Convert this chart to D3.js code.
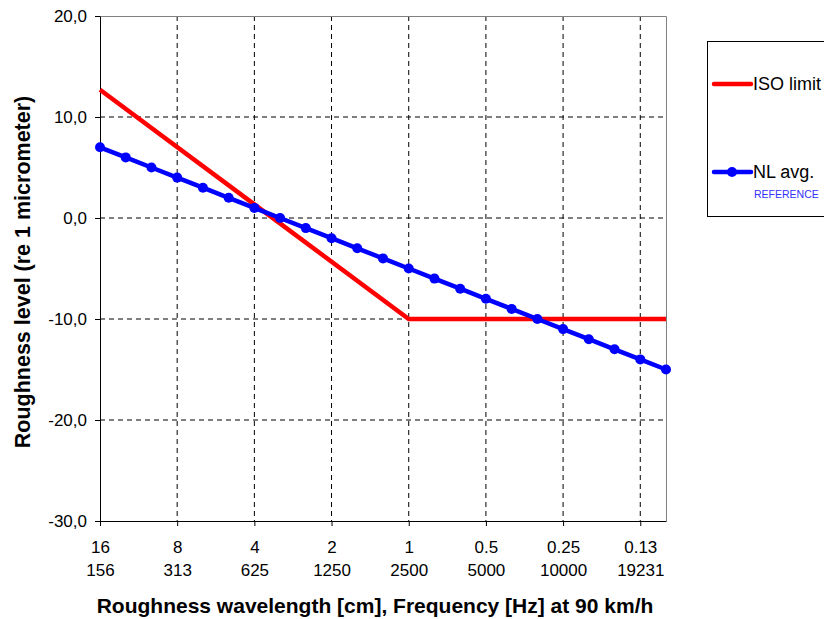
<!DOCTYPE html>
<html>
<head>
<meta charset="utf-8">
<script src="https://cdn.jsdelivr.net/npm/d3@7"></script>
<style>
  body { margin: 0; background: #fff; }
  svg text { font-family: "Liberation Sans", Arial, sans-serif; }
</style>
</head>
<body>
<div id="chart"></div>
<script>
const width = 824,
height = 619,
margin = ({ top: 16, right: 158, bottom: 98, left: 100 });

// 1/3 octave wavelength bands [cm]
const bands = [16, 12.5, 10, 8, 6.3, 5, 4, 3.15, 2.5, 2, 1.6, 1.25, 1, 0.8, 0.63, 0.5, 0.4, 0.315, 0.25, 0.2, 0.16, 0.13, 0.1];
const nlAvg = [7, 6, 5, 4, 3, 2, 1, 0, -1, -2, -3, -4, -5, -6, -7, -8, -9, -10, -11, -12, -13, -14, -15];
// ISO limit: corner points of the line
const isoBands = [16, 1, 0.1];
const isoLimit = [12.7, -10, -10];
// labelled bands and their text
const tickBands = [16, 8, 4, 2, 1, 0.5, 0.25, 0.13];
const wavelengthLabels = ["16", "8", "4", "2", "1", "0.5", "0.25", "0.13"];
const freqLabels = ["156", "313", "625", "1250", "2500", "5000", "10000", "19231"];
const yTicks = [-30, -20, -10, 0, 10, 20];

const svg = d3.select("#chart")
    .append("svg")
    .attr("width", width)
    .attr("height", height);

let x = d3.scalePoint()
    .domain(bands)
    .range([margin.left, width - margin.right]);

let y = d3.scaleLinear()
    .domain([-30, 20])
    .range([height - margin.bottom, margin.top]);

// grid lines (dashed)
svg.append("g")
    .selectAll("line")
    .data(yTicks.filter(d => d > -30 && d < 20))
    .join("line")
    .attr("x1", margin.left).attr("x2", width - margin.right)
    .attr("y1", d => y(d)).attr("y2", d => y(d))
    .attr("stroke", "#000")
    .attr("stroke-dasharray", "5,4");

svg.append("g")
    .selectAll("line")
    .data(tickBands.slice(1))
    .join("line")
    .attr("x1", d => x(d)).attr("x2", d => x(d))
    .attr("y1", margin.top).attr("y2", height - margin.bottom)
    .attr("stroke", "#000")
    .attr("stroke-dasharray", "5,4");

// top and right border in grey
svg.append("path")
    .attr("d", `M${margin.left},${margin.top + 0.5}H${width - margin.right + 0.5}V${height - margin.bottom}`)
    .attr("fill", "none")
    .attr("stroke", "#808080");

// Y axis
svg.append("g")
    .attr("transform", `translate(${margin.left},0)`)
    .call(d3.axisLeft(y)
        .tickValues(yTicks)
        .tickSizeInner(5)
        .tickSizeOuter(0)
        .tickPadding(8)
        .tickFormat(d => d.toFixed(1).replace(".", ",")))
    .call(g => g.selectAll("text").attr("font-size", 17).attr("fill", "#000"))
    .call(g => g.select(".domain").attr("stroke", "#000"));

// X axis, two label rows
let xAxis = svg.append("g")
    .attr("transform", `translate(0,${height - margin.bottom})`)
    .call(d3.axisBottom(x)
        .tickValues(tickBands)
        .tickSizeInner(5)
        .tickSizeOuter(0)
        .tickFormat(""));
xAxis.select(".domain").attr("stroke", "#000");

xAxis.selectAll(".tick")
    .append("text")
    .attr("fill", "#000")
    .attr("font-size", 17)
    .attr("y", 32)
    .text((d, i) => wavelengthLabels[i]);

xAxis.selectAll(".tick")
    .append("text")
    .attr("fill", "#000")
    .attr("font-size", 17)
    .attr("y", 55)
    .text((d, i) => freqLabels[i]);

// axis titles
svg.append("text")
    .attr("x", 375)
    .attr("y", 613)
    .attr("text-anchor", "middle")
    .attr("font-size", 21)
    .attr("font-weight", 700)
    .text("Roughness wavelength [cm], Frequency [Hz] at 90 km/h");

svg.append("text")
    .attr("transform", "translate(30,272) rotate(-90)")
    .attr("text-anchor", "middle")
    .attr("font-size", 21.5)
    .attr("font-weight", 700)
    .text("Roughness level (re 1 micrometer)");

// lines
let isoData = isoBands.map((b, i) => ({ band: b, value: isoLimit[i] }));
let nlData = bands.map((b, i) => ({ band: b, value: nlAvg[i] }));

let line = d3.line()
    .x(d => x(d.band))
    .y(d => y(d.value));

svg.append("path")
    .datum(isoData)
    .attr("fill", "none")
    .attr("stroke", "#ff0000")
    .attr("stroke-width", 4.5)
    .attr("d", line);

svg.append("path")
    .datum(nlData)
    .attr("fill", "none")
    .attr("stroke", "#0000ff")
    .attr("stroke-width", 4.5)
    .attr("d", line);

svg.append("g")
    .selectAll("circle")
    .data(nlData)
    .join("circle")
    .attr("cx", d => x(d.band))
    .attr("cy", d => y(d.value))
    .attr("r", 5)
    .attr("fill", "#0000ff");

// legend
let legend = svg.append("g");
legend.append("rect")
    .attr("x", 707.5).attr("y", 41.5)
    .attr("width", 130).attr("height", 175)
    .attr("fill", "#fff")
    .attr("stroke", "#000");

legend.append("line")
    .attr("x1", 714).attr("x2", 751)
    .attr("y1", 84).attr("y2", 84)
    .attr("stroke", "#ff0000")
    .attr("stroke-width", 4.5)
    .attr("stroke-linecap", "round");
legend.append("text")
    .attr("x", 753).attr("y", 84)
    .attr("dy", "0.35em")
    .attr("font-size", 18)
    .text("ISO limit");

legend.append("line")
    .attr("x1", 714).attr("x2", 751)
    .attr("y1", 172).attr("y2", 172)
    .attr("stroke", "#0000ff")
    .attr("stroke-width", 4.5)
    .attr("stroke-linecap", "round");
legend.append("circle")
    .attr("cx", 732).attr("cy", 172)
    .attr("r", 5)
    .attr("fill", "#0000ff");
legend.append("text")
    .attr("x", 753).attr("y", 172)
    .attr("dy", "0.35em")
    .attr("font-size", 18)
    .text("NL avg.");
legend.append("text")
    .attr("x", 754).attr("y", 198)
    .attr("font-size", 10.5)
    .attr("fill", "#3333ff")
    .text("REFERENCE");
</script>
</body>
</html>
